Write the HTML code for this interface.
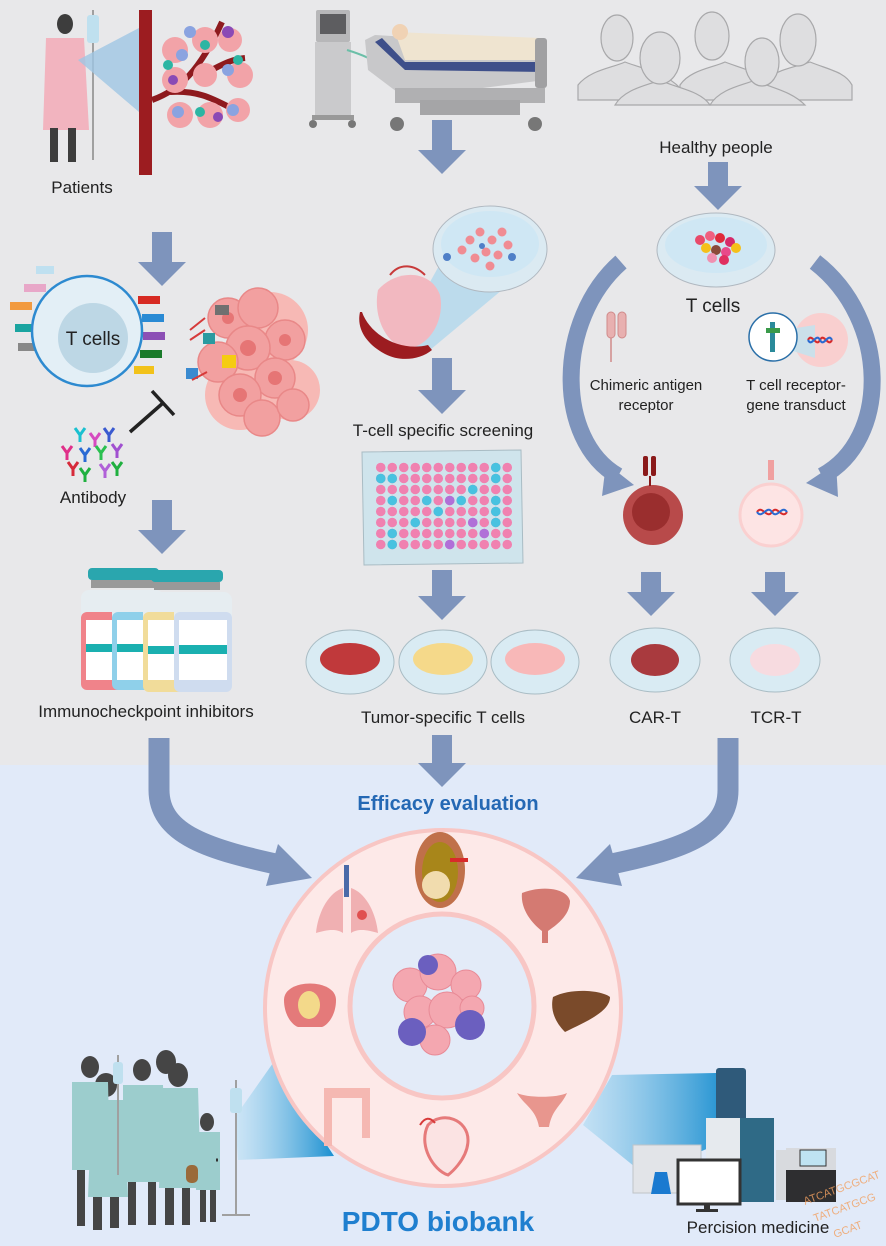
<!DOCTYPE html>
<html><head><meta charset="utf-8"><style>
html,body{margin:0;padding:0;background:#fff}
svg{display:block}
text{font-family:"Liberation Sans",sans-serif}
</style></head><body>
<svg width="886" height="1246" viewBox="0 0 886 1246" xmlns="http://www.w3.org/2000/svg">
<defs>
<linearGradient id="cone" x1="0" y1="0" x2="1" y2="0"><stop offset="0" stop-color="#b9e0f3" stop-opacity="0.5"/><stop offset="1" stop-color="#1a8fd0"/></linearGradient>
<linearGradient id="cone2" x1="0" y1="0" x2="1" y2="0"><stop offset="0" stop-color="#a9d8f0" stop-opacity="0.6"/><stop offset="1" stop-color="#1a8fd0"/></linearGradient>
<pattern id="wp" x="375" y="462" width="11.5" height="11" patternUnits="userSpaceOnUse"><circle cx="5.75" cy="5.5" r="4.8" fill="#f081b0"/></pattern>
</defs>
<rect x="0" y="0" width="886" height="765" fill="#e8e8ea"/>
<rect x="0" y="765" width="886" height="481" fill="#e1eaf9"/>

<!-- straight down arrows -->
<g fill="#7e94bc">
<path d="M152,232h20v30h14l-24,24l-24,-24h14z"/>
<path d="M432,120h20v30h14l-24,24l-24,-24h14z"/>
<path d="M708,162h20v24h14l-24,24l-24,-24h14z"/>
<path d="M432,358h20v32h14l-24,24l-24,-24h14z"/>
<path d="M152,500h20v30h14l-24,24l-24,-24h14z"/>
<path d="M432,570h20v26h14l-24,24l-24,-24h14z"/>
<path d="M641,572h20v20h14l-24,24l-24,-24h14z"/>
<path d="M765,572h20v20h14l-24,24l-24,-24h14z"/>
<path d="M432,735h20v28h14l-24,24l-24,-24h14z"/>
</g>
<!-- curved arrows -->
<g fill="none" stroke="#7e94bc">
<path d="M621,262 C555,320 555,440 618,476" stroke-width="17"/>
<path d="M815,262 C890,320 890,440 822,476" stroke-width="17"/>
<path d="M159,738 V790 C159,835 210,850 285,866" stroke-width="21"/>
<path d="M728,738 V790 C728,835 680,850 602,866" stroke-width="21"/>
</g>
<g fill="#7e94bc">
<path d="M606,463 L634,485 L602,496 z"/>
<path d="M836,463 L806,483 L838,497 z"/>
<path d="M278,844 L312,878 L266,886 z"/>
<path d="M610,844 L576,878 L622,886 z"/>
</g>

<!-- patient top-left -->
<ellipse cx="65" cy="24" rx="8" ry="10" fill="#3d3d3d"/>
<path d="M46,38 h38 l5,92 h-46 z" fill="#f2b4bf"/>
<rect x="50" y="128" width="8" height="34" fill="#3d3d3d"/><rect x="68" y="128" width="8" height="34" fill="#3d3d3d"/>
<rect x="92" y="10" width="2" height="150" fill="#a0a0a0"/><rect x="87" y="15" width="12" height="28" rx="3" fill="#bfe0ef"/>
<path d="M78,60 L139,28 L139,112 z" fill="#9fc6e3" opacity="0.8"/>
<rect x="139" y="10" width="13" height="165" fill="#9c1c20"/>
<path d="M152,100 C180,90 200,70 222,22 M170,92 C200,90 215,100 235,110 M200,75 C215,70 225,60 245,58" stroke="#8e1a1e" stroke-width="6" fill="none"/>
<g fill="#f2a3a8"><circle cx="175" cy="50" r="13"/><circle cx="205" cy="40" r="13"/><circle cx="230" cy="40" r="12"/><circle cx="175" cy="80" r="13"/><circle cx="205" cy="75" r="12"/><circle cx="240" cy="75" r="13"/><circle cx="180" cy="115" r="13"/><circle cx="210" cy="115" r="13"/><circle cx="238" cy="110" r="12"/></g>
<g fill="#8aa3e0"><circle cx="190" cy="32" r="6"/><circle cx="182" cy="55" r="6"/><circle cx="228" cy="70" r="6"/><circle cx="178" cy="112" r="6"/><circle cx="233" cy="110" r="6"/></g>
<g fill="#2cb5a3"><circle cx="168" cy="65" r="5"/><circle cx="238" cy="60" r="5"/><circle cx="200" cy="112" r="5"/><circle cx="205" cy="45" r="5"/></g>
<g fill="#8a4ab5"><circle cx="228" cy="32" r="6"/><circle cx="173" cy="80" r="5"/><circle cx="218" cy="117" r="5"/></g>
<text x="82" y="193" font-size="17" text-anchor="middle" fill="#222">Patients</text>

<!-- ventilator + bed -->
<rect x="316" y="10" width="34" height="32" rx="2" fill="#b7b7b9"/><rect x="320" y="14" width="26" height="20" fill="#5d5d60"/>
<rect x="315" y="42" width="36" height="75" fill="#cacacc"/><rect x="312" y="115" width="42" height="5" fill="#999"/>
<circle cx="313" cy="124" r="4" fill="#777"/><circle cx="352" cy="124" r="4" fill="#777"/>
<path d="M347,50 C380,60 390,70 400,90 C410,70 420,45 400,35" stroke="#6bbfa8" stroke-width="2" fill="none"/>
<path d="M365,40 L375,35 L545,45 L545,80 L405,98 L368,70z" fill="#c8c8ca"/>
<path d="M375,42 L405,70 L545,72 L545,62 L405,62 L382,38z" fill="#3e4f8a"/>
<path d="M395,32 L540,38 L545,60 L405,60z" fill="#efe4d0"/>
<circle cx="400" cy="32" r="8" fill="#f0d2b4"/>
<rect x="535" y="38" width="12" height="50" rx="3" fill="#a0a0a2"/>
<rect x="395" y="88" width="150" height="15" fill="#b0b0b2"/><rect x="420" y="100" width="100" height="15" fill="#a5a5a7"/>
<circle cx="397" cy="124" r="7" fill="#777"/><circle cx="535" cy="124" r="7" fill="#777"/>

<!-- healthy faces -->
<g fill="#dedee0" stroke="#a8a8aa" stroke-width="1.2">
<path d="M578,85 C590,70 612,68 625,62 C640,68 665,72 680,88 L680,100 L578,100z"/>
<path d="M680,85 C690,70 712,68 725,62 C740,68 762,72 775,88 L775,100 L680,100z"/>
<path d="M765,80 C780,68 800,66 810,62 C830,70 845,72 852,85 L852,100 L765,100z"/>
<path d="M615,105 C625,88 650,85 660,80 C675,88 700,90 710,105z"/>
<path d="M710,105 C720,88 745,85 755,80 C770,88 790,90 805,105z"/>
<ellipse cx="617" cy="38" rx="16" ry="23"/><ellipse cx="712" cy="36" rx="17" ry="24"/><ellipse cx="798" cy="40" rx="18" ry="26"/><ellipse cx="660" cy="58" rx="20" ry="26"/><ellipse cx="762" cy="62" rx="17" ry="24"/>
</g>
<text x="716" y="153" font-size="17" text-anchor="middle" fill="#222">Healthy people</text>

<!-- T cells left -->
<g>
<rect x="15" y="324" width="22" height="8" fill="#1aa4a0"/><rect x="10" y="302" width="22" height="8" fill="#f29a3f"/><rect x="24" y="284" width="22" height="8" fill="#e8a7c8"/><rect x="36" y="266" width="18" height="8" fill="#bfe0f0"/><rect x="18" y="343" width="20" height="8" fill="#888"/>
<rect x="138" y="296" width="22" height="8" fill="#d72a22"/><rect x="142" y="314" width="22" height="8" fill="#2a8ad4"/><rect x="143" y="332" width="22" height="8" fill="#8c4fb5"/><rect x="140" y="350" width="22" height="8" fill="#1a7a2a"/><rect x="134" y="366" width="20" height="8" fill="#f2c21a"/>
</g>
<circle cx="87" cy="331" r="55" fill="#e3eff6" stroke="#2d8ad0" stroke-width="2.5"/>
<circle cx="93" cy="338" r="35" fill="#bdd7e5"/>
<text x="93" y="345" font-size="19" text-anchor="middle" fill="#222">T cells</text>
<!-- tumor -->
<g fill="#f7b9b5"><circle cx="270" cy="330" r="38"/><circle cx="240" cy="395" r="35"/><circle cx="290" cy="390" r="30"/></g>
<g fill="#f2a0a0" stroke="#e98888" stroke-width="1.5">
<circle cx="228" cy="318" r="20"/><circle cx="258" cy="308" r="20"/><circle cx="285" cy="340" r="20"/><circle cx="248" cy="348" r="22"/><circle cx="218" cy="362" r="20"/><circle cx="275" cy="378" r="20"/><circle cx="240" cy="395" r="21"/><circle cx="262" cy="418" r="18"/><circle cx="293" cy="405" r="16"/>
</g>
<g fill="#e67575"><circle cx="248" cy="348" r="8"/><circle cx="275" cy="378" r="7"/><circle cx="240" cy="395" r="7"/><circle cx="228" cy="318" r="6"/><circle cx="285" cy="340" r="6"/></g>
<rect x="222" y="355" width="14" height="13" fill="#f5cc12"/><rect x="203" y="333" width="12" height="11" fill="#2a9aa0"/><rect x="186" y="368" width="12" height="11" fill="#3a8ad0"/><rect x="215" y="305" width="14" height="10" fill="#707070"/>
<path d="M190,330 l15,-12 M190,340 l15,-10 M192,380 l15,-8" stroke="#d63a3a" stroke-width="2"/>
<!-- antibody + inhibition -->
<g stroke-width="3" fill="none">
<path d="M75,428 l5,7 l5,-7 M80,435 v7" stroke="#1ac0d0"/><path d="M90,433 l5,7 l5,-7 M95,440 v7" stroke="#d64ac0"/><path d="M104,428 l5,7 l5,-7 M109,435 v7" stroke="#3a5ad0"/><path d="M62,446 l5,7 l5,-7 M67,453 v7" stroke="#e0308a"/><path d="M80,448 l5,7 l5,-7 M85,455 v7" stroke="#2a6ad4"/><path d="M96,446 l5,7 l5,-7 M101,453 v7" stroke="#2ac050"/><path d="M112,444 l5,7 l5,-7 M117,451 v7" stroke="#a050d0"/><path d="M68,462 l5,7 l5,-7 M73,469 v7" stroke="#d62a3a"/><path d="M100,464 l5,7 l5,-7 M105,471 v7" stroke="#b060d8"/><path d="M80,468 l5,7 l5,-7 M85,475 v7" stroke="#20b040"/><path d="M112,462 l5,7 l5,-7 M117,469 v7" stroke="#20b040"/>
</g>
<path d="M130,432 L163,403 M152,391 L174,415" stroke="#222" stroke-width="3.5"/>
<text x="93" y="503" font-size="17" text-anchor="middle" fill="#222">Antibody</text>

<!-- petri + tissue center -->
<path d="M395,345 L445,255 L520,275 L430,350z" fill="#a9d5ec" opacity="0.7"/>
<ellipse cx="490" cy="249" rx="57" ry="43" fill="#dbeaf2" stroke="#b0b8c0"/>
<ellipse cx="490" cy="244" rx="49" ry="33" fill="#cfe7f4"/>
<g fill="#f08c93"><circle cx="470" cy="240" r="4.5"/><circle cx="480" cy="232" r="4.5"/><circle cx="492" cy="240" r="4.5"/><circle cx="502" cy="232" r="4.5"/><circle cx="486" cy="252" r="4.5"/><circle cx="475" cy="258" r="4.5"/><circle cx="498" cy="255" r="4.5"/><circle cx="508" cy="245" r="4.5"/><circle cx="490" cy="266" r="4.5"/><circle cx="462" cy="250" r="4.5"/></g>
<g fill="#4f7fc7"><circle cx="447" cy="257" r="4"/><circle cx="512" cy="257" r="4"/><circle cx="482" cy="246" r="3"/></g>
<path d="M378,290 C395,270 430,268 440,295 C445,320 430,345 410,348 C390,350 372,320 378,290z" fill="#f2b8c0"/>
<path d="M390,275 C400,262 415,265 425,275" stroke="#c83a3a" stroke-width="2" fill="none"/>
<path d="M362,312 C370,335 400,352 428,345 L432,350 C420,360 400,362 385,354 C368,345 356,330 360,312z" fill="#9c1c20"/>
<text x="443" y="436" font-size="17" text-anchor="middle" fill="#222">T-cell specific screening</text>
<!-- well plate -->
<path d="M362,452 L521,450 L523,563 L364,565z" fill="#cfe4ec" stroke="#a9bcc4"/>
<rect x="375" y="462" width="138" height="88" fill="url(#wp)"/>
<g fill="#48c2e0"><circle cx="380.75" cy="478.5" r="4.8"/><circle cx="392.25" cy="478.5" r="4.8"/><circle cx="392.25" cy="500.5" r="4.8"/><circle cx="426.75" cy="500.5" r="4.8"/><circle cx="392.25" cy="533.5" r="4.8"/><circle cx="392.25" cy="544.5" r="4.8"/><circle cx="495.75" cy="467.5" r="4.8"/><circle cx="495.75" cy="478.5" r="4.8"/><circle cx="472.75" cy="489.5" r="4.8"/><circle cx="461.25" cy="500.5" r="4.8"/><circle cx="495.75" cy="500.5" r="4.8"/><circle cx="495.75" cy="511.5" r="4.8"/><circle cx="495.75" cy="522.5" r="4.8"/><circle cx="438.25" cy="511.5" r="4.8"/><circle cx="415.25" cy="522.5" r="4.8"/></g>
<g fill="#b070d8"><circle cx="449.75" cy="500.5" r="4.8"/><circle cx="472.75" cy="522.5" r="4.8"/><circle cx="449.75" cy="544.5" r="4.8"/><circle cx="484.25" cy="533.5" r="4.8"/></g>

<!-- vials -->
<g>
<rect x="88" y="568" width="40" height="12" rx="4" fill="#2aa6ae"/><rect x="91" y="580" width="34" height="8" fill="#999"/><rect x="81" y="590" width="52" height="100" rx="8" fill="#e6edf1"/><rect x="81" y="612" width="52" height="78" rx="6" fill="#f0838a"/><rect x="86" y="620" width="42" height="60" fill="#fff"/><rect x="86" y="644" width="42" height="8" fill="#1ab0b0"/>
<rect x="119" y="568" width="40" height="12" rx="4" fill="#2aa6ae"/><rect x="122" y="580" width="34" height="8" fill="#999"/><rect x="112" y="590" width="52" height="100" rx="8" fill="#e6edf1"/><rect x="112" y="612" width="52" height="78" rx="6" fill="#8fd0ea"/><rect x="117" y="620" width="42" height="60" fill="#fff"/><rect x="117" y="644" width="42" height="8" fill="#1ab0b0"/>
<rect x="151" y="570" width="40" height="12" rx="4" fill="#2aa6ae"/><rect x="154" y="582" width="34" height="8" fill="#999"/><rect x="143" y="592" width="52" height="100" rx="8" fill="#e6edf1"/><rect x="143" y="612" width="52" height="80" rx="6" fill="#f1dc9a"/><rect x="148" y="620" width="42" height="60" fill="#fff"/><rect x="148" y="646" width="42" height="8" fill="#1ab0b0"/>
<rect x="183" y="570" width="40" height="12" rx="4" fill="#2aa6ae"/><rect x="186" y="582" width="34" height="8" fill="#999"/><rect x="174" y="592" width="58" height="100" rx="8" fill="#e6edf1"/><rect x="174" y="612" width="58" height="80" rx="6" fill="#cfdcef"/><rect x="179" y="620" width="48" height="60" fill="#fff"/><rect x="179" y="645" width="48" height="9" fill="#1ab0b0"/>
</g>
<text x="146" y="717" font-size="17" text-anchor="middle" fill="#222">Immunocheckpoint inhibitors</text>

<!-- dishes -->
<g stroke="#a9bcc4" fill="#d9ebf3">
<ellipse cx="350" cy="662" rx="44" ry="32"/><ellipse cx="443" cy="662" rx="44" ry="32"/><ellipse cx="535" cy="662" rx="44" ry="32"/>
<ellipse cx="655" cy="660" rx="45" ry="32"/><ellipse cx="775" cy="660" rx="45" ry="32"/>
</g>
<g><ellipse cx="350" cy="659" rx="30" ry="16" fill="#c0393b"/><ellipse cx="443" cy="659" rx="30" ry="16" fill="#f5d98a"/><ellipse cx="535" cy="659" rx="30" ry="16" fill="#f8b8b8"/><ellipse cx="655" cy="660" rx="24" ry="16" fill="#a93a3e"/><ellipse cx="775" cy="660" rx="25" ry="16" fill="#f7dbe0"/></g>
<text x="443" y="723" font-size="17" text-anchor="middle" fill="#222">Tumor-specific T cells</text>
<text x="655" y="723" font-size="17" text-anchor="middle" fill="#222">CAR-T</text>
<text x="776" y="723" font-size="17" text-anchor="middle" fill="#222">TCR-T</text>

<!-- right T cells -->
<ellipse cx="716" cy="250" rx="59" ry="37" fill="#dbeaf2" stroke="#b0b8c0"/>
<ellipse cx="716" cy="245" rx="51" ry="28" fill="#cfe7f4"/>
<g><circle cx="700" cy="240" r="5" fill="#e84a6a"/><circle cx="710" cy="236" r="5" fill="#f06080"/><circle cx="720" cy="238" r="5" fill="#e02a3a"/><circle cx="730" cy="242" r="5" fill="#d62a6a"/><circle cx="706" cy="248" r="5" fill="#f5c01a"/><circle cx="716" cy="250" r="5" fill="#8a4a3a"/><circle cx="726" cy="252" r="5" fill="#e84a8a"/><circle cx="736" cy="248" r="5" fill="#f5c01a"/><circle cx="712" cy="258" r="5" fill="#f090b0"/><circle cx="724" cy="260" r="5" fill="#e03060"/></g>
<text x="713" y="312" font-size="19" text-anchor="middle" fill="#222">T cells</text>
<rect x="607" y="312" width="8" height="26" rx="4" fill="#e8b0b0" stroke="#d08a8a"/><rect x="618" y="312" width="8" height="26" rx="4" fill="#e8b0b0" stroke="#d08a8a"/><path d="M611,338 v24" stroke="#d08a8a" stroke-width="1.5"/>
<text x="646" y="390" font-size="15" text-anchor="middle" fill="#222">Chimeric antigen</text>
<text x="646" y="410" font-size="15" text-anchor="middle" fill="#222">receptor</text>
<circle cx="821" cy="340" r="27" fill="#f9cfcf"/>
<path d="M784,330 L815,325 L815,358 L790,350z" fill="#bfe3f0" opacity="0.8"/>
<path d="M808,340 c4,-8 8,8 12,0 c4,-8 8,8 12,0" stroke="#d82a2a" stroke-width="2" fill="none"/>
<path d="M808,340 c4,8 8,-8 12,0 c4,8 8,-8 12,0" stroke="#2a6ad0" stroke-width="2" fill="none"/>
<circle cx="773" cy="337" r="24" fill="#fff" stroke="#2a6fa8" stroke-width="1.5"/><rect x="770" y="322" width="5" height="30" fill="#2a8a9a"/><rect x="766" y="328" width="14" height="5" fill="#3a9a4a"/>
<text x="796" y="390" font-size="15" text-anchor="middle" fill="#222">T cell receptor-</text>
<text x="796" y="410" font-size="15" text-anchor="middle" fill="#222">gene transduct</text>
<circle cx="653" cy="515" r="30" fill="#b84a4a"/><circle cx="651" cy="512" r="19" fill="#9a2e2e"/>
<rect x="643" y="456" width="5" height="20" rx="2" fill="#8a1a1a"/><rect x="651" y="456" width="5" height="20" rx="2" fill="#8a1a1a"/><path d="M650,476 v10" stroke="#8a1a1a" stroke-width="2"/>
<circle cx="771" cy="515" r="31" fill="#fde4e4" stroke="#fad0d0" stroke-width="3"/><rect x="768" y="460" width="6" height="20" fill="#f0a0a0"/>
<path d="M757,512 c5,-8 10,8 15,0 c5,-8 10,8 15,0" stroke="#d82a2a" stroke-width="2" fill="none"/>
<path d="M757,512 c5,8 10,-8 15,0 c5,8 10,-8 15,0" stroke="#2a6ad0" stroke-width="2" fill="none"/>

<!-- Efficacy -->
<text x="448" y="810" font-size="20" font-weight="bold" text-anchor="middle" fill="#2468b4">Efficacy evaluation</text>

<!-- cones -->
<path d="M235,1117 L273,1063 L334,1156 L238,1160z" fill="url(#cone)"/>
<path d="M583,1125 L612,1075 L716,1073 L716,1145 L645,1175z" fill="url(#cone2)" opacity="0.9"/>

<!-- ring -->
<circle cx="443" cy="1008" r="178" fill="#fde9e8" stroke="#f8c6c4" stroke-width="4"/>
<circle cx="442" cy="1006" r="92" fill="#e3ebf8" stroke="#f8c6c4" stroke-width="5"/>
<!-- organs -->
<path d="M343,888 c-15,5 -25,25 -27,45 c10,-3 20,-5 27,0z M351,888 c15,5 25,25 27,45 c-10,-3 -20,-5 -27,0z" fill="#f0b0b2"/><rect x="344" y="865" width="5" height="32" fill="#4a6aa8"/><circle cx="362" cy="915" r="5" fill="#e05050"/>
<ellipse cx="440" cy="870" rx="25" ry="38" fill="#c0704a"/><ellipse cx="440" cy="872" rx="18" ry="30" fill="#a8861a"/><ellipse cx="436" cy="885" rx="14" ry="14" fill="#f1dcae"/><path d="M450,860 h18" stroke="#d82a2a" stroke-width="4"/>
<path d="M522,893 c20,-8 45,-5 48,8 c0,15 -15,25 -22,30 v12 h-6 v-12 c-7,-5 -22,-20 -20,-38z" fill="#d47a72"/>
<path d="M553,997 c20,-10 50,-6 57,0 c0,15 -25,25 -45,35 c-10,-10 -15,-22 -12,-35z" fill="#7a4a2a"/>
<path d="M284,1000 c0,-22 52,-22 52,0 c0,15 -8,25 -14,27 h-24 c-6,-2 -14,-12 -14,-27z" fill="#e47a7a"/><ellipse cx="309" cy="1005" rx="11" ry="14" fill="#f3d98a"/>
<path d="M324,1088 h46 v50 h-8 v-40 h-30 v48 h-8z" fill="#f5b8b2"/>
<path d="M428,1125 c15,-15 40,-5 40,15 c0,20 -20,35 -20,35 c-15,-5 -30,-30 -20,-50z" fill="#fbe3e3" stroke="#e67a7a" stroke-width="3"/><path d="M420,1125 c5,-8 10,-8 15,-2" stroke="#d83a3a" stroke-width="2" fill="none"/>
<path d="M517,1093 c10,5 40,5 50,0 c-5,12 -15,16 -18,34 h-10 c-3,-18 -15,-22 -22,-34z" fill="#e8968e"/>
<!-- tumor center -->
<g fill="#f4a7b0" stroke="#e88a96"><circle cx="410" cy="985" r="17"/><circle cx="438" cy="972" r="18"/><circle cx="466" cy="985" r="15"/><circle cx="420" cy="1012" r="16"/><circle cx="447" cy="1010" r="18"/><circle cx="435" cy="1040" r="15"/><circle cx="472" cy="1008" r="12"/></g>
<g fill="#6b5fbf"><circle cx="470" cy="1025" r="15"/><circle cx="412" cy="1032" r="14"/><circle cx="428" cy="965" r="10"/></g>

<!-- patients group -->
<g fill="#454545">
<ellipse cx="90" cy="1067" rx="9" ry="11"/><ellipse cx="106" cy="1085" rx="11" ry="12"/><ellipse cx="142" cy="1070" rx="9" ry="11"/><ellipse cx="166" cy="1062" rx="10" ry="12"/><ellipse cx="178" cy="1075" rx="10" ry="12"/><ellipse cx="207" cy="1122" rx="7" ry="9"/>
<rect x="77" y="1168" width="8" height="58"/><rect x="93" y="1195" width="9" height="35"/><rect x="110" y="1195" width="9" height="33"/><rect x="128" y="1180" width="8" height="45"/><rect x="148" y="1180" width="8" height="45"/><rect x="165" y="1185" width="9" height="40"/><rect x="182" y="1185" width="8" height="40"/><rect x="200" y="1190" width="6" height="32"/><rect x="210" y="1190" width="6" height="32"/>
</g>
<g fill="#9ccdcd">
<path d="M72,1082 h36 l2,88 h-38z"/><path d="M92,1100 h32 l4,97 h-40z"/><path d="M123,1085 h40 l2,97 h-42z"/><path d="M163,1088 h35 l3,100 h-42z"/><path d="M196,1132 h24 v58 h-24z"/>
</g>
<path d="M218,1160 h-2" stroke="#333" stroke-width="3"/>
<rect x="186" y="1165" width="12" height="18" rx="5" fill="#9a6a3a"/>
<rect x="235" y="1080" width="2" height="135" fill="#a0a0a0"/><rect x="230" y="1088" width="12" height="25" rx="3" fill="#bfe0ef"/>
<path d="M222,1215 h28" stroke="#a0a0a0" stroke-width="2"/>
<rect x="117" y="1055" width="2" height="120" fill="#a0a0a0"/><rect x="113" y="1062" width="10" height="22" rx="3" fill="#bfe0ef"/>

<!-- machines -->
<rect x="716" y="1068" width="30" height="55" rx="3" fill="#2f5a7a"/>
<rect x="706" y="1118" width="68" height="84" fill="#e6eaee"/><rect x="740" y="1118" width="34" height="84" fill="#2f6a86"/>
<rect x="633" y="1145" width="68" height="48" fill="#e2e4e8" stroke="#c0c4c8"/><path d="M655,1172 h12 l4,22 h-20z" fill="#1a7ad0"/>
<rect x="678" y="1160" width="62" height="44" fill="#fff" stroke="#333" stroke-width="3"/><rect x="704" y="1204" width="6" height="6" fill="#333"/><rect x="696" y="1209" width="22" height="3" fill="#333"/>
<rect x="776" y="1150" width="18" height="50" fill="#d8dade"/>
<rect x="786" y="1148" width="50" height="22" fill="#d8dade"/><rect x="800" y="1150" width="26" height="16" fill="#bfe3f2" stroke="#333"/>
<rect x="786" y="1170" width="50" height="32" fill="#2e2e30"/>
<g fill="#f2a060" opacity="0.8" font-size="11">
<text x="805" y="1205" transform="rotate(-20 805 1205)">ATCATGCGCAT</text>
<text x="815" y="1222" transform="rotate(-20 815 1222)">TATCATGCG</text>
<text x="835" y="1238" transform="rotate(-20 835 1238)">GCAT</text>
</g>
<text x="758" y="1233" font-size="17" text-anchor="middle" fill="#222">Percision medicine</text>

<text x="438" y="1231" font-size="28" font-weight="bold" text-anchor="middle" fill="#1f7fcf">PDTO biobank</text>
</svg>
</body></html>
